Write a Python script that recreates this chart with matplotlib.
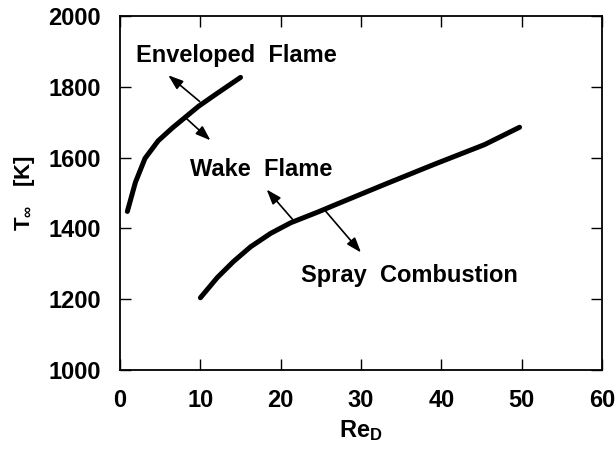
import matplotlib
matplotlib.use('Agg')
import matplotlib.pyplot as plt

plt.rcParams['font.family'] = ['Liberation Sans', 'DejaVu Sans']
plt.rcParams['font.weight'] = 'bold'
plt.rcParams['mathtext.fontset'] = 'custom'
plt.rcParams['mathtext.rm'] = 'Liberation Sans:bold'
plt.rcParams['mathtext.it'] = 'Liberation Sans:bold'
plt.rcParams['mathtext.bf'] = 'Liberation Sans:bold'

# enveloped flame / wake flame boundary
env_re = [0.9, 1.9, 3.1, 4.75, 6.5, 8.1, 9.75, 11.9, 15.0]
env_t = [1448, 1530, 1598, 1648, 1684, 1714, 1745, 1779, 1827]

# wake flame / spray combustion boundary
spray_re = [10.0, 12.1, 14.1, 16.25, 18.75, 21.25, 24.6, 26.6, 32.9, 39.1, 45.4, 49.75]
spray_t = [1204, 1261, 1306, 1348, 1386, 1416, 1446, 1465, 1524, 1581, 1637, 1686]

xticks = [0, 10, 20, 30, 40, 50, 60]
yticks = [1000, 1200, 1400, 1600, 1800, 2000]

fig = plt.figure(figsize=(6.16, 4.5), dpi=100)
ax = fig.add_axes([0.195, 0.178, 0.782, 0.786])

ax.plot(env_re, env_t, color='black', lw=3.6,
        solid_capstyle='round', solid_joinstyle='round')
ax.plot(spray_re, spray_t, color='black', lw=3.6,
        solid_capstyle='round', solid_joinstyle='round')

# arrows pointing into each regime
arrows = [
    ((9.9, 1759), (6.0, 1833)),
    ((8.1, 1714), (11.25, 1649)),
    ((21.5, 1425), (18.25, 1510)),
    ((25.4, 1454), (30.0, 1332)),
]
for start, end in arrows:
    ax.annotate('', xy=end, xytext=start,
                arrowprops=dict(arrowstyle='-|>,head_length=0.9,head_width=0.32',
                                color='black', lw=1.2, shrinkA=0, shrinkB=0))

ax.text(2.0, 1870, 'Enveloped  Flame', fontsize=17, fontweight='bold', va='baseline')
ax.text(8.75, 1547, 'Wake  Flame', fontsize=17, fontweight='bold', va='baseline')
ax.text(22.5, 1249, 'Spray  Combustion', fontsize=17, fontweight='bold', va='baseline')

ax.set_xlim(0, 60)
ax.set_ylim(1000, 2000)
ax.set_xticks(xticks)
ax.set_yticks(yticks)
ax.tick_params(direction='in', length=8, width=1, top=True, right=True,
               labelsize=17, pad=14)
for lab in ax.get_xticklabels() + ax.get_yticklabels():
    lab.set_fontweight('bold')
for sp in ax.spines.values():
    sp.set_linewidth(1.3)

ax.set_xlabel(r'Re$_\mathrm{D}$', fontsize=17, fontweight='bold', labelpad=4)
ax.set_ylabel(r'T$_\infty$   [K]', fontsize=16, fontweight='bold', labelpad=8)

fig.savefig('out.png', dpi=100)
